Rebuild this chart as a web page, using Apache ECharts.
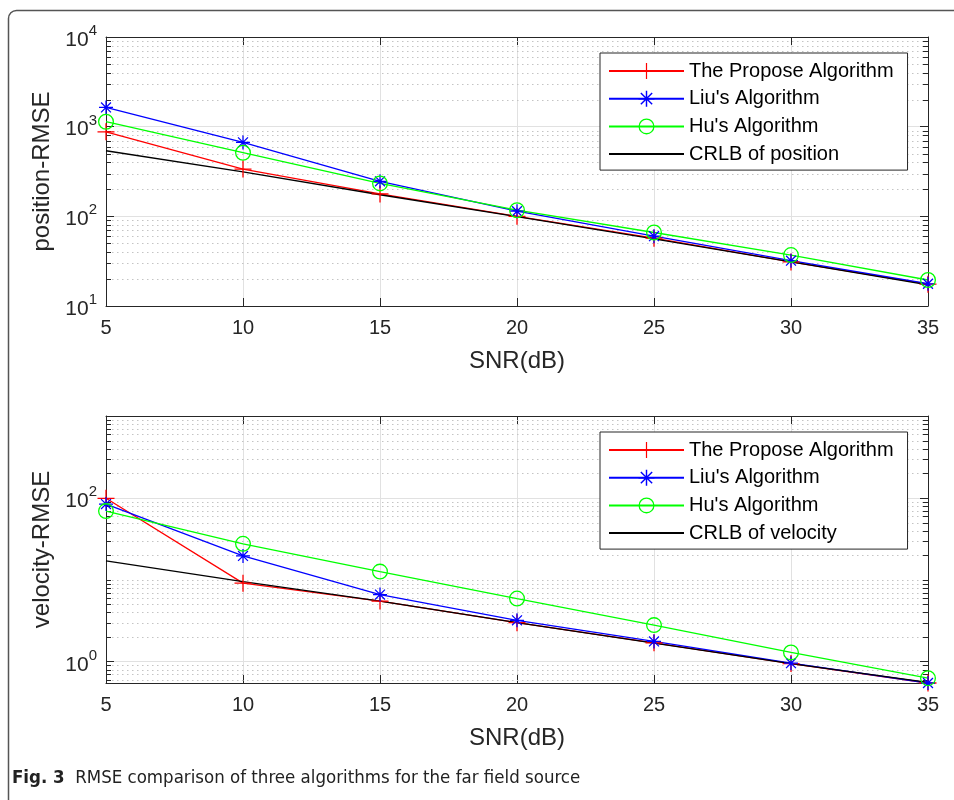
<!DOCTYPE html>
<html><head><meta charset="utf-8">
<script src="https://cdn.jsdelivr.net/npm/echarts@6/dist/echarts.min.js"></script>
<style>html,body{margin:0;padding:0;background:#fff}#c{width:954px;height:800px}</style>
</head><body><div id="c"></div>
<script>
// ---------- data ----------
const SNR = [5, 10, 15, 20, 25, 30, 35];
const posProposed = [877, 337, 178, 100, 57, 31, 17.5];
const posLiu      = [1640, 668, 246, 114, 60, 32, 17.7];
const posHu       = [1135, 512, 233, 117, 66, 37, 19.5];
const posCRLB     = [539, 314, 174, 99, 56, 31, 17.2];

const velProposed = [99, 9.1, 5.5, 3.0, 1.7, 0.95, 0.55];
const velLiu      = [84, 19.6, 6.6, 3.2, 1.77, 0.96, 0.55];
const velHu       = [69, 27.5, 12.6, 5.9, 2.8, 1.30, 0.63];
const velCRLB     = [17, 9.5, 5.5, 3.0, 1.69, 0.95, 0.56];

const algNames = ["The Propose Algorithm", "Liu's Algorithm", "Hu's Algorithm"];
const crlbPosName = "CRLB of position";
const crlbVelName = "CRLB of velocity";
const xTickStep = 5;
const posYTicks = [10, 100, 1000, 10000];
const velYTicks = [1, 100];
const posYRange = [10, 10000];
const velYRange = [0.55, 1000];
const minorMantissas = [1, 2, 3, 4, 5, 6, 7, 8, 9];
const posMinorExps = [1, 2, 3];
const velMinorExps = [-1, 0, 1, 2];
const xName = "SNR(dB)";
const posYName = "position-RMSE";
const velYName = "velocity-RMSE";
const captionBold = "Fig. 3";
const captionText = "RMSE comparison of three algorithms for the far field source";

// ---------- styling ----------
const FONT = "'Liberation Sans', Arial, Helvetica, sans-serif";
const CAP_FONT = "'Liberation Sans Narrow', 'DejaVu Sans Condensed', 'Open Sans', sans-serif";
const AX = '#262626';
const MAJOR_GRID = '#e1e1e1';
const MINOR_GRID = '#c4c4c4';
const RED = '#ff0000', BLUE = '#0000ff', GREEN = '#00ff00', BLACK = '#000000';

function bar(angleDeg, t) {
  const a = angleDeg * Math.PI / 180, c = Math.cos(a), s = Math.sin(a);
  const pts = [[-t, -1], [t, -1], [t, 1], [-t, 1]].map(([x, y]) => [x * c - y * s, x * s + y * c]);
  return 'M' + pts.map(p => p[0].toFixed(4) + ',' + p[1].toFixed(4)).join('L') + 'Z';
}
const PLUS = 'path://' + bar(0, 0.075) + bar(90, 0.075);
const STAR = 'path://' + bar(0, 0.09) + bar(90, 0.09) + bar(45, 0.09) + bar(-45, 0.09);
const RING = 'path://M0,-1A1,1 0 1,1 0,1A1,1 0 1,1 0,-1ZM0,-0.84A0.84,0.84 0 1,0 0,0.84A0.84,0.84 0 1,0 0,-0.84Z';

function minorValues(exps, range, majors) {
  const out = [];
  exps.forEach(e => minorMantissas.forEach(m => {
    const v = +(m * Math.pow(10, e)).toPrecision(6);
    if (v > range[0] * 1.0001 && v < range[1] * 0.9999 && !majors.some(t => Math.abs(t - v) < 1e-9)) out.push(v);
  }));
  return out;
}

function powLabel(v, ticks) {
  const hit = ticks.find(t => Math.abs(Math.log10(v) - Math.log10(t)) < 1e-6);
  if (hit === undefined) return '';
  return '{b|10}{s|' + Math.round(Math.log10(hit)) + '}';
}

function xAx(gi, pos) {
  const bottom = pos === 'bottom';
  return {
    type: 'value', gridIndex: gi, position: pos, min: SNR[0], max: SNR[SNR.length - 1], interval: xTickStep,
    axisLine: { show: true, onZero: false, lineStyle: { color: AX, width: 1 } },
    axisTick: { show: true, inside: true, length: 8, lineStyle: { color: AX, width: 1 } },
    axisLabel: { show: bottom, margin: 12, fontSize: 20, color: AX, fontFamily: FONT },
    splitLine: { show: bottom, lineStyle: { color: MAJOR_GRID, width: 1 } },
    name: bottom ? xName : '', nameLocation: 'middle', nameGap: 43,
    nameTextStyle: { fontSize: 24, color: AX, fontFamily: FONT }
  };
}

function yAx(gi, pos, range, base, ticks, name) {
  const left = pos === 'left';
  return {
    type: 'log', logBase: base, gridIndex: gi, position: pos, min: range[0], max: range[1],
    axisLine: { show: true, onZero: false, lineStyle: { color: AX, width: 1 } },
    axisTick: { show: true, inside: true, length: 8, lineStyle: { color: AX, width: 1 } },
    axisLabel: {
      show: left, margin: 9, color: AX, fontFamily: FONT,
      formatter: v => powLabel(v, ticks),
      rich: {
        b: { fontSize: 21, fontFamily: FONT, color: AX, lineHeight: 27, verticalAlign: 'bottom' },
        s: { fontSize: 15, fontFamily: FONT, color: AX, lineHeight: 15, verticalAlign: 'top' }
      }
    },
    splitLine: { show: left, lineStyle: { color: MAJOR_GRID, width: 1 } },
    name: left ? name : '', nameLocation: 'middle', nameGap: 49,
    nameTextStyle: { fontSize: 24, color: AX, fontFamily: FONT }
  };
}

function minorSeries(xi, yi, vals) {
  return {
    type: 'custom', xAxisIndex: xi, yAxisIndex: yi, silent: true, z: 1, animation: false,
    data: vals.map(v => [SNR[0], v]),
    renderItem: (params, api) => {
      const y = api.value(1);
      const a = api.coord([SNR[0], y]);
      const b = api.coord([SNR[SNR.length - 1], y]);
      const yy = Math.round(a[1]) + 0.5;
      return {
        type: 'group', children: [
          { type: 'line', shape: { x1: a[0] + 1, y1: yy, x2: b[0] - 1, y2: yy }, style: { stroke: MINOR_GRID, lineWidth: 1, lineDash: [1.5, 3.5] } },
          { type: 'line', shape: { x1: a[0], y1: yy, x2: a[0] + 5, y2: yy }, style: { stroke: AX, lineWidth: 1 } },
          { type: 'line', shape: { x1: b[0] - 5, y1: yy, x2: b[0], y2: yy }, style: { stroke: AX, lineWidth: 1 } }
        ]
      };
    }
  };
}

function lineSeries(name, vals, color, sym, size, xi, yi) {
  return {
    type: 'line', name, xAxisIndex: xi, yAxisIndex: yi,
    data: SNR.map((x, i) => [x, vals[i]]),
    symbol: sym, symbolSize: size, showSymbol: sym !== 'none', showAllSymbol: true,
    lineStyle: { color, width: 1.3 }, itemStyle: { color },
    emphasis: { disabled: true }, animation: false, clip: false, z: 2
  };
}

function legendOpt(top, crlbName) {
  return {
    data: algNames.map(n => ({ name: n })).concat([{ name: crlbName, itemStyle: { opacity: 0 } }]),
    orient: 'vertical', left: 600, top,
    itemWidth: 75, itemHeight: 20, itemGap: 7.7, padding: [8, 14, 6, 8],
    borderColor: AX, borderWidth: 1, backgroundColor: '#fff', selectedMode: false,
    textStyle: { fontSize: 20, color: '#000', fontFamily: FONT, lineHeight: 20 }
  };
}

const chart = echarts.init(document.getElementById('c'), null, { renderer: 'canvas' });
chart.setOption({
  animation: false,
  backgroundColor: '#fff',
  grid: [
    { left: 106, top: 37, width: 822, height: 269, containLabel: false },
    { left: 106, top: 416, width: 822, height: 267, containLabel: false }
  ],
  xAxis: [xAx(0, 'bottom'), xAx(0, 'top'), xAx(1, 'bottom'), xAx(1, 'top')],
  yAxis: [
    yAx(0, 'left', posYRange, 10, posYTicks, posYName),
    yAx(0, 'right', posYRange, 10, posYTicks, ''),
    yAx(1, 'left', velYRange, 100, velYTicks, velYName),
    yAx(1, 'right', velYRange, 100, velYTicks, '')
  ],
  legend: [legendOpt(53, crlbPosName), legendOpt(432, crlbVelName)],
  series: [
    minorSeries(0, 0, minorValues(posMinorExps, posYRange, posYTicks)),
    minorSeries(2, 2, minorValues(velMinorExps, velYRange, velYTicks)),
    lineSeries(algNames[0], posProposed, RED, PLUS, 17, 0, 0),
    lineSeries(algNames[1], posLiu, BLUE, STAR, 14, 0, 0),
    lineSeries(algNames[2], posHu, GREEN, RING, 16, 0, 0),
    lineSeries(crlbPosName, posCRLB, BLACK, 'none', 0, 0, 0),
    lineSeries(algNames[0], velProposed, RED, PLUS, 17, 2, 2),
    lineSeries(algNames[1], velLiu, BLUE, STAR, 14, 2, 2),
    lineSeries(algNames[2], velHu, GREEN, RING, 16, 2, 2),
    lineSeries(crlbVelName, velCRLB, BLACK, 'none', 0, 2, 2)
  ],
  graphic: [
    { type: 'rect', silent: true, z: -10, shape: { x: 8.5, y: 10.5, width: 980, height: 820, r: 8 },
      style: { fill: 'none', stroke: '#555', lineWidth: 1.5 } },
    { type: 'text', silent: true, left: 12, top: 769,
      style: {
        text: '{b|' + captionBold + '}  ' + captionText,
        font: "18.5px " + CAP_FONT,
        fill: '#222',
        rich: { b: { fontWeight: 'bold', fontSize: 18.5, fontFamily: CAP_FONT, fill: '#222' } }
      } }
  ]
});
</script></body></html>
